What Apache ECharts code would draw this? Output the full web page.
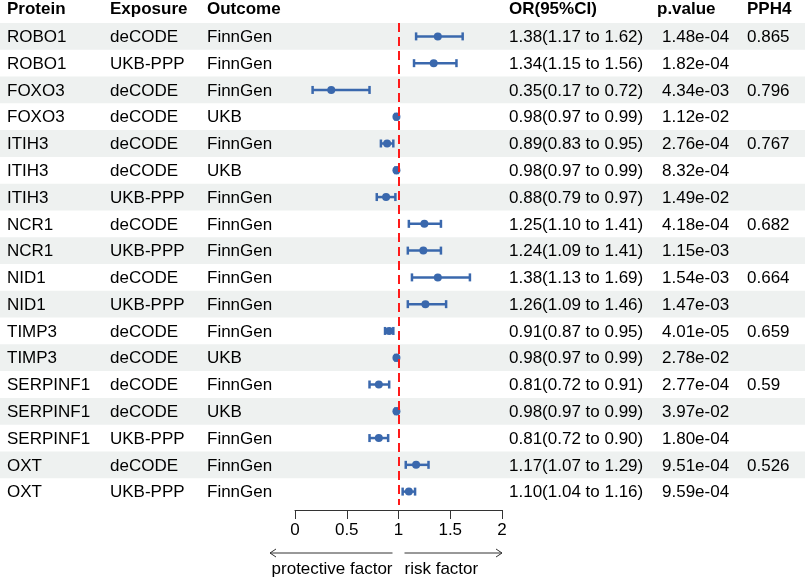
<!DOCTYPE html>
<html>
<head>
<meta charset="utf-8">
<script src="https://cdn.jsdelivr.net/npm/echarts@6/dist/echarts.min.js"></script>
<style>
html,body{margin:0;padding:0;background:#fff}
#main{width:809px;height:579px}
</style>
</head>
<body>
<div id="main"></div>
<script>
var headers = ['Protein', 'Exposure', 'Outcome', 'OR(95%CI)', 'p.value', 'PPH4'];
var proteins = ['ROBO1', 'ROBO1', 'FOXO3', 'FOXO3', 'ITIH3', 'ITIH3', 'ITIH3', 'NCR1', 'NCR1',
    'NID1', 'NID1', 'TIMP3', 'TIMP3', 'SERPINF1', 'SERPINF1', 'SERPINF1', 'OXT', 'OXT'];
var exposures = ['deCODE', 'UKB-PPP', 'deCODE', 'deCODE', 'deCODE', 'deCODE', 'UKB-PPP', 'deCODE', 'UKB-PPP',
    'deCODE', 'UKB-PPP', 'deCODE', 'deCODE', 'deCODE', 'deCODE', 'UKB-PPP', 'deCODE', 'UKB-PPP'];
var outcomes = ['FinnGen', 'FinnGen', 'FinnGen', 'UKB', 'FinnGen', 'UKB', 'FinnGen', 'FinnGen', 'FinnGen',
    'FinnGen', 'FinnGen', 'FinnGen', 'UKB', 'FinnGen', 'UKB', 'FinnGen', 'FinnGen', 'FinnGen'];
var orValues = [1.38, 1.34, 0.35, 0.98, 0.89, 0.98, 0.88, 1.25, 1.24, 1.38, 1.26, 0.91, 0.98, 0.81, 0.98, 0.81, 1.17, 1.10];
var lowerCI = [1.17, 1.15, 0.17, 0.97, 0.83, 0.97, 0.79, 1.10, 1.09, 1.13, 1.09, 0.87, 0.97, 0.72, 0.97, 0.72, 1.07, 1.04];
var upperCI = [1.62, 1.56, 0.72, 0.99, 0.95, 0.99, 0.97, 1.41, 1.41, 1.69, 1.46, 0.95, 0.99, 0.91, 0.99, 0.90, 1.29, 1.16];
var pValues = ['1.48e-04', '1.82e-04', '4.34e-03', '1.12e-02', '2.76e-04', '8.32e-04', '1.49e-02', '4.18e-04', '1.15e-03',
    '1.54e-03', '1.47e-03', '4.01e-05', '2.78e-02', '2.77e-04', '3.97e-02', '1.80e-04', '9.51e-04', '9.59e-04'];
var pph4 = ['0.865', '', '0.796', '', '0.767', '', '', '0.682', '', '0.664', '', '0.659', '', '0.59', '', '', '0.526', ''];

var FONT = "'Liberation Sans', Arial, sans-serif";
var colX = [7, 110, 207, 509, 662, 747];    // data columns
var headX = [7, 110, 207, 509, 657, 747];   // header columns
var BLUE = '#3a68ad';

function orText(i) {
    return orValues[i].toFixed(2) + '(' + lowerCI[i].toFixed(2) + ' to ' + upperCI[i].toFixed(2) + ')';
}

function txt(t, x, y, bold) {
    return {
        type: 'text',
        style: {
            text: t, x: x, y: y, fill: '#000',
            fontSize: 17, fontFamily: FONT, fontWeight: bold ? 'bold' : 'normal',
            verticalAlign: 'middle', align: 'left'
        }
    };
}

// table rows + shading
function renderRow(params, api) {
    var i = api.value(1);
    var c = api.coord([0, i]);
    var h = api.size([0, 1])[1];
    var children = [];
    if (i % 2 === 0) {
        children.push({
            type: 'rect',
            shape: { x: 0, y: c[1] - h / 2, width: 805, height: h },
            style: { fill: '#eef1f0' }
        });
    }
    var cells = [proteins[i], exposures[i], outcomes[i], orText(i), pValues[i], pph4[i]];
    cells.forEach(function (t, k) {
        children.push(txt(t, colX[k], c[1] + 1, false));
    });
    if (i === 0) {
        headers.forEach(function (t, k) {
            children.push(txt(t, headX[k], c[1] - h, true));
        });
    }
    return { type: 'group', children: children };
}

function renderErr(params, api) {
    var i = api.value(2);
    var a = api.coord([api.value(0), i]);
    var b = api.coord([api.value(1), i]);
    var st = { stroke: BLUE, lineWidth: 2.5 };
    return {
        type: 'group',
        children: [
            { type: 'line', shape: { x1: a[0], y1: a[1], x2: b[0], y2: b[1] }, style: st },
            { type: 'line', shape: { x1: a[0], y1: a[1] - 4, x2: a[0], y2: a[1] + 4 }, style: st },
            { type: 'line', shape: { x1: b[0], y1: b[1] - 4, x2: b[0], y2: b[1] + 4 }, style: st }
        ]
    };
}

var chart = echarts.init(document.getElementById('main'), null, { renderer: 'canvas' });

var option = {
    animation: false,
    backgroundColor: '#fff',
    grid: { left: 295, right: 307, top: 23, bottom: 74 },
    xAxis: {
        type: 'value', min: 0, max: 2, interval: 0.5,
        offset: 5,
        splitLine: { show: false },
        axisLine: { show: true, lineStyle: { color: '#333', width: 1 } },
        axisTick: { show: true, length: 9, lineStyle: { color: '#333' } },
        axisLabel: { fontSize: 17, color: '#000', fontFamily: FONT, margin: 12 }
    },
    yAxis: {
        type: 'category', inverse: true,
        data: proteins.map(function (p, i) { return i; }),
        axisLine: { show: false }, axisTick: { show: false }, axisLabel: { show: false },
        splitLine: { show: false }
    },
    series: [
        {
            type: 'custom', z: 0,
            renderItem: renderRow,
            data: proteins.map(function (p, i) { return [0, i]; }),
            encode: { x: 0, y: 1 },
            silent: true
        },
        {
            type: 'custom', z: 2,
            renderItem: renderErr,
            data: proteins.map(function (p, i) { return [lowerCI[i], upperCI[i], i]; }),
            encode: { x: [0, 1], y: 2 }
        },
        {
            type: 'scatter', z: 3,
            symbolSize: 8,
            itemStyle: { color: BLUE, opacity: 1 },
            data: proteins.map(function (p, i) { return [orValues[i], i]; }),
            markLine: {
                silent: true, symbol: 'none',
                label: { show: false },
                lineStyle: { color: '#ff1a1a', type: [9, 5], width: 2 },
                data: [{ xAxis: 1 }]
            }
        }
    ]
};
chart.setOption(option);

// direction arrows under the axis
var x0 = chart.convertToPixel({ xAxisIndex: 0 }, 0);
var x1 = chart.convertToPixel({ xAxisIndex: 0 }, 1);
var x2 = chart.convertToPixel({ xAxisIndex: 0 }, 2);
var ay = 553, ty = 569;
var ls = { stroke: '#333', lineWidth: 1 };
chart.setOption({
    graphic: [
        { type: 'line', shape: { x1: x1 - 6, y1: ay, x2: x0 - 25, y2: ay }, style: ls },
        { type: 'polyline', shape: { points: [[x0 - 19, ay - 4], [x0 - 25, ay], [x0 - 19, ay + 4]] }, style: ls },
        { type: 'line', shape: { x1: x1 + 6, y1: ay, x2: x2, y2: ay }, style: ls },
        { type: 'polyline', shape: { points: [[x2 - 6, ay - 4], [x2, ay], [x2 - 6, ay + 4]] }, style: ls },
        { type: 'text', style: { text: 'protective factor', x: x1 - 6, y: ty, align: 'right', verticalAlign: 'middle', fontSize: 17, fontFamily: FONT, fill: '#000' } },
        { type: 'text', style: { text: 'risk factor', x: x1 + 6, y: ty, align: 'left', verticalAlign: 'middle', fontSize: 17, fontFamily: FONT, fill: '#000' } }
    ]
});
</script>
</body>
</html>
